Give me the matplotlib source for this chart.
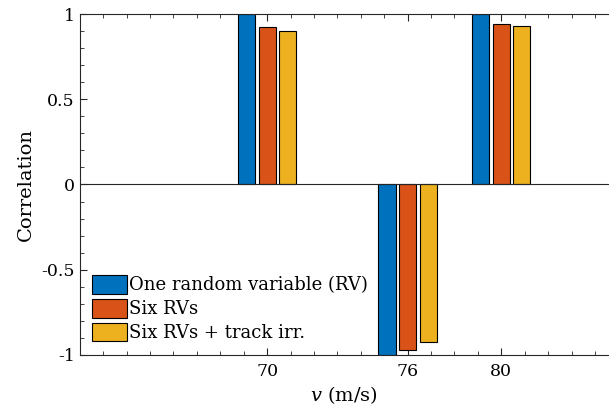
import matplotlib
matplotlib.use('Agg')
import matplotlib.pyplot as plt
from matplotlib.ticker import MultipleLocator, FixedLocator
import numpy as np

speeds = [70, 76, 80]
labels = ['One random variable (RV)', 'Six RVs', 'Six RVs + track irr.']
one_rv = [1.0, -1.0, 1.0]
six_rv = [0.927, -0.974, 0.944]
six_rv_track = [0.901, -0.925, 0.933]
colors = ['#0072BD', '#D95319', '#EDB120']

plt.rcParams['font.family'] = 'DejaVu Serif'
plt.rcParams['mathtext.fontset'] = 'dejavuserif'

fig = plt.figure(figsize=(6.09, 4.16), dpi=100)
ax = fig.add_axes([0.131, 0.147, 0.869, 0.819])

offset = 0.88
width = 0.73
x = np.array(speeds, dtype=float)
for k, vals in enumerate([one_rv, six_rv, six_rv_track]):
    ax.bar(x + (k - 1) * offset, vals, width, color=colors[k],
           edgecolor='black', linewidth=0.8, label=labels[k], zorder=2)

ax.axhline(0, color='#262626', linewidth=0.8, zorder=3)

ax.set_xlim(62, 84.6)
ax.set_ylim(-1, 1)
ax.xaxis.set_major_locator(FixedLocator(speeds))
ax.xaxis.set_minor_locator(MultipleLocator(1))
ax.yaxis.set_major_locator(FixedLocator([-1, -0.5, 0, 0.5, 1]))
ax.yaxis.set_minor_locator(MultipleLocator(0.1))
ax.set_yticklabels(['-1', '-0.5', '0', '0.5', '1'])
ax.tick_params(which='both', direction='in', top=True, right=False,
               labelsize=12.5, color='#262626')
ax.tick_params(which='major', length=5)
ax.tick_params(which='minor', length=3)
ax.tick_params(axis='x', pad=6)
ax.spines['right'].set_visible(False)
for s in ['left', 'top', 'bottom']:
    ax.spines[s].set_color('#262626')

ax.set_xlabel('$v$ (m/s)', fontsize=14, labelpad=3)
ax.set_ylabel('Correlation', fontsize=14, labelpad=5)

ax.legend(loc='lower left', frameon=False, fontsize=13,
          handlelength=1.9, handleheight=1.2, handletextpad=0.15,
          labelspacing=0.25, borderpad=0.4, borderaxespad=0.3)

plt.savefig('out.png', dpi=100)
